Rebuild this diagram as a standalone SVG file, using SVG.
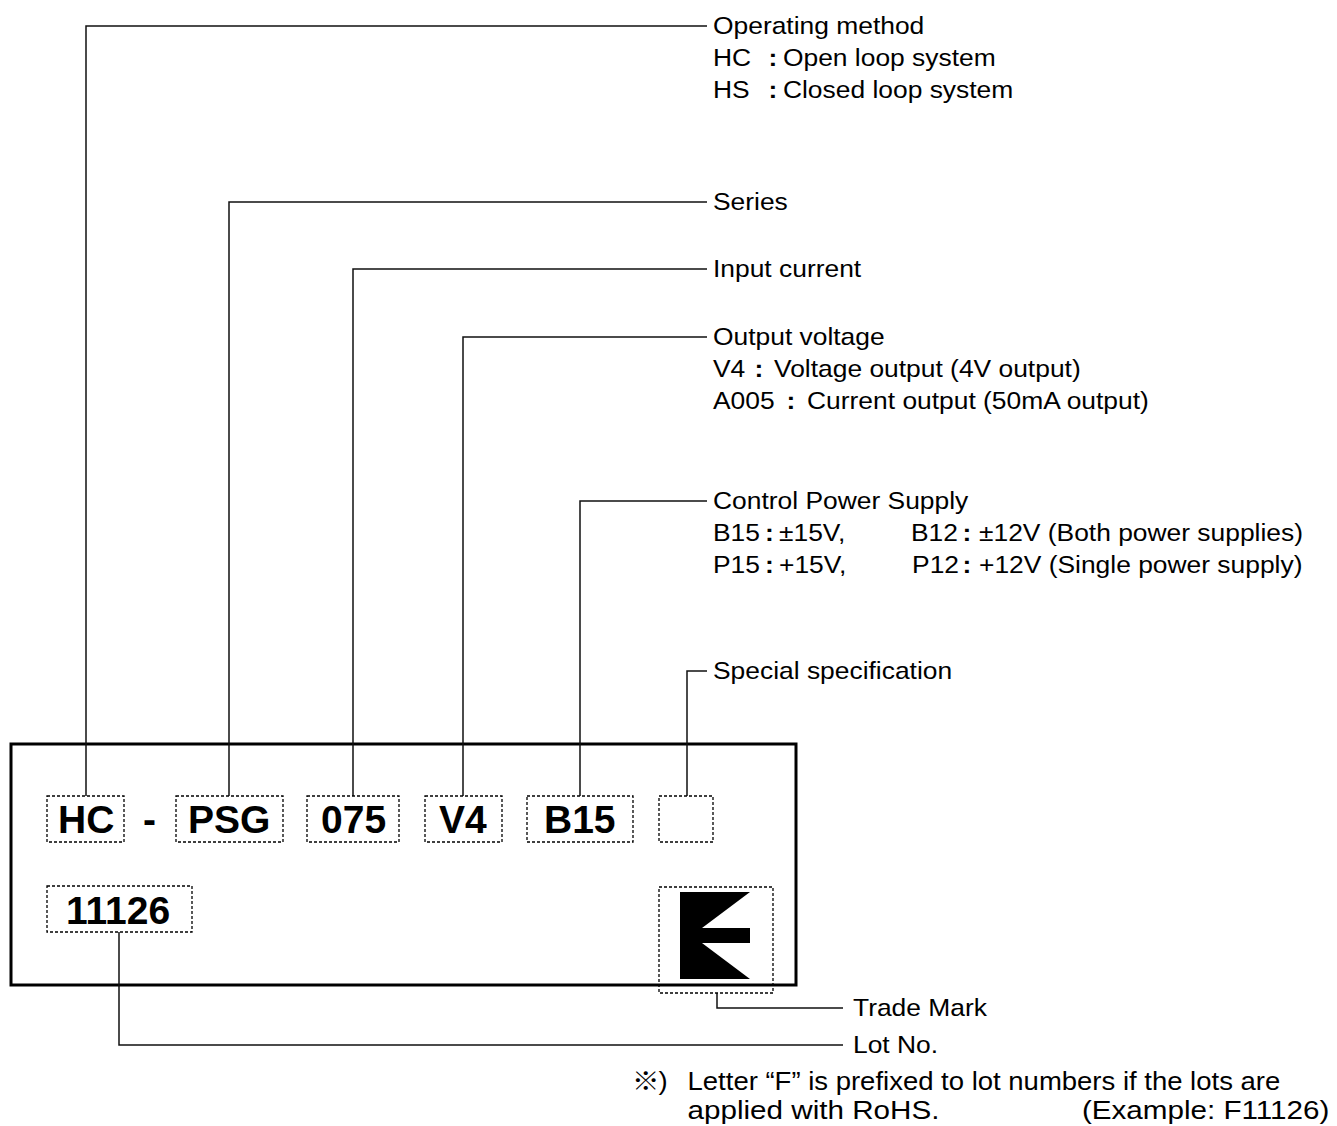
<svg xmlns="http://www.w3.org/2000/svg" width="1337" height="1126" viewBox="0 0 1337 1126">
<style>
.lbl{font-family:"Liberation Sans",Arial,"Noto Sans CJK JP",sans-serif;font-size:24px;fill:#000}
.note{font-family:"Liberation Sans",Arial,"Noto Sans CJK JP",sans-serif;font-size:25px;fill:#000}
.cj{font-family:"Noto Sans CJK JP","Liberation Sans",sans-serif}
.col{font-weight:bold}
.code{font-family:"Liberation Sans",Arial,sans-serif;font-size:39px;font-weight:bold;fill:#000}
.dot{fill:none;stroke:#000;stroke-width:1.3;stroke-dasharray:3 2}
.conn{fill:none;stroke:#111;stroke-width:1.5}
</style>
<rect width="1337" height="1126" fill="#fff"/>
<g id="plate">
<rect x="11" y="744" width="785" height="241" fill="none" stroke="#000" stroke-width="3"/>
</g>
<g id="connectors">
<path class="conn" d="M86 796V26H707"/>
<path class="conn" d="M229 796V202H707"/>
<path class="conn" d="M353 796V269H707"/>
<path class="conn" d="M463 796V337H707"/>
<path class="conn" d="M580 796V501H707"/>
<path class="conn" d="M687 796V671H707"/>
<path class="conn" d="M119 932V1045H843"/>
<path class="conn" d="M717 993V1008H843"/>
</g>
<g id="node-hc"><rect class="dot" x="47" y="796" width="77" height="46"/><text class="code" x="58" y="833">HC</text></g>
<g id="node-dash"><text class="code" x="143" y="833">-</text></g>
<g id="node-psg"><rect class="dot" x="176" y="796" width="107" height="46"/><text class="code" x="188" y="833">PSG</text></g>
<g id="node-075"><rect class="dot" x="307" y="796" width="92" height="46"/><text class="code" x="321" y="833">075</text></g>
<g id="node-v4"><rect class="dot" x="425" y="796" width="77" height="46"/><text class="code" x="439" y="833">V4</text></g>
<g id="node-b15"><rect class="dot" x="527" y="796" width="106" height="46"/><text class="code" x="544" y="833">B15</text></g>
<g id="node-special"><rect class="dot" x="659" y="796" width="54" height="46"/></g>
<g id="node-lot"><rect class="dot" x="47" y="886" width="145" height="46"/><text class="code" x="66" y="924">11126</text></g>
<g id="node-trademark"><rect class="dot" x="659" y="887" width="114" height="106"/><polygon points="680,892 750,892 702,928 750,928 750,943 702,943 750,979 680,979" fill="#000"/></g>
<g id="label-operating">
<text class="lbl" transform="translate(713 34) scale(1.1 1)">Operating method</text>
<text class="lbl" transform="translate(713 66) scale(1.1 1)"><tspan x="0">HC</tspan><tspan class="col" x="50.5">:</tspan><tspan x="63.6">Open loop system</tspan></text>
<text class="lbl" transform="translate(713 98) scale(1.1 1)"><tspan x="0">HS</tspan><tspan class="col" x="50.5">:</tspan><tspan x="63.6">Closed loop system</tspan></text>
</g>
<g id="label-series"><text class="lbl" transform="translate(713 210) scale(1.1 1)">Series</text></g>
<g id="label-input"><text class="lbl" transform="translate(713 277) scale(1.1 1)">Input current</text></g>
<g id="label-output">
<text class="lbl" transform="translate(713 345) scale(1.1 1)">Output voltage</text>
<text class="lbl" transform="translate(713 377) scale(1.1 1)"><tspan x="0">V4</tspan><tspan class="col" x="37.8">:</tspan><tspan x="55.5">Voltage output (4V output)</tspan></text>
<text class="lbl" transform="translate(713 409) scale(1.1 1)"><tspan x="0">A005</tspan><tspan class="col" x="66.9">:</tspan><tspan x="85.5">Current output (50mA output)</tspan></text>
</g>
<g id="label-control">
<text class="lbl" transform="translate(713 509) scale(1.1 1)">Control Power Supply</text>
<text class="lbl" transform="translate(713 541) scale(1.1 1)"><tspan x="0">B15</tspan><tspan class="col" x="47.3">:</tspan><tspan x="60">±15V,</tspan><tspan x="180">B12</tspan><tspan class="col" x="226.9">:</tspan><tspan x="241.8">±12V (Both power supplies)</tspan></text>
<text class="lbl" transform="translate(713 573) scale(1.1 1)"><tspan x="0">P15</tspan><tspan class="col" x="47.3">:</tspan><tspan x="60">+15V,</tspan><tspan x="181">P12</tspan><tspan class="col" x="226.9">:</tspan><tspan x="241.8">+12V (Single power supply)</tspan></text>
</g>
<g id="label-special"><text class="lbl" transform="translate(713 679) scale(1.1 1)">Special specification</text></g>
<g id="label-trademark"><text class="lbl" transform="translate(853 1016) scale(1.1 1)">Trade Mark</text></g>
<g id="label-lot"><text class="lbl" transform="translate(853 1053) scale(1.1 1)">Lot No.</text></g>
<g id="note">
<text class="note" transform="translate(632 1090) scale(1.1 1)"><tspan class="cj" x="0">※</tspan><tspan x="24">)</tspan><tspan x="50.5">Letter “F” is prefixed to lot numbers if the lots are</tspan></text>
<text class="note" transform="translate(632 1119) scale(1.1 1)"><tspan x="50.5" textLength="229" lengthAdjust="spacingAndGlyphs">applied with RoHS.</tspan><tspan x="409" textLength="225" lengthAdjust="spacingAndGlyphs">(Example: F11126)</tspan></text>
</g>
</svg>
